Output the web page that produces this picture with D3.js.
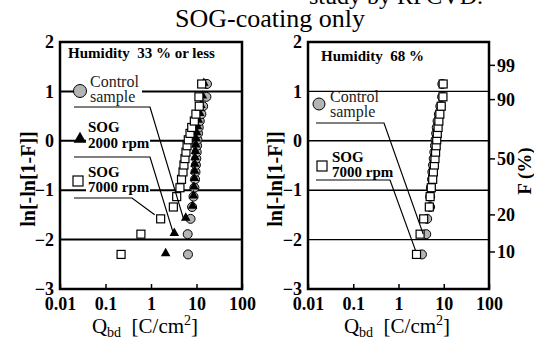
<!DOCTYPE html>
<html>
<head>
<meta charset="utf-8">
<script src="https://cdn.jsdelivr.net/npm/d3@7"></script>
<style>
  body { margin: 0; background: #fff; }
</style>
</head>
<body>
<svg id="chart" width="534" height="340"></svg>
<script>
// Weibull plot values (y = ln[-ln[1-F]] for each rank, x = Qbd in C/cm2)
var rankY = [-2.30, -1.89, -1.58, -1.34, -1.13, -0.95, -0.78, -0.63, -0.49, -0.36,
             -0.23, -0.10, 0.02, 0.15, 0.27, 0.40, 0.54, 0.70, 0.89, 1.15];

// left panel: humidity 33 % or less
var ctrlQ_L = [6.5, 6.4, 7.4, 8.0, 8.6, 9.0, 9.3, 9.5, 9.7, 9.9,
               10.1, 10.3, 10.5, 10.8, 11.2, 11.8, 12.8, 14.0, 16.5, 17.0];
var sog2000Q_L = [2.1, 3.25, 5.8, 8.2, 8.6, 8.8, 9.0, 9.1, 9.2, 9.3,
                  9.5, 9.7, 9.9, 10.1, 10.5, 11.0, 11.8, 12.5, 13.5, 14.5];
var sog7000Q_L = [0.22, 0.60, 1.63, 3.1, 3.67, 4.33, 4.68, 5.05, 5.3, 5.58,
                  5.87, 6.2, 6.6, 7.2, 7.85, 8.96, 9.7, 11.5, 11.3, 13.0];

// right panel: humidity 68 %
var ctrlQ_R = [3.3, 4.1, 4.3, 5.0, 5.0, 5.2, 5.5, 5.6, 5.8, 6.0,
               6.2, 6.4, 6.6, 6.8, 7.0, 7.3, 7.8, 8.4, 9.2, 9.3];
var sog7000Q_R = [2.5, 3.0, 3.6, 4.8, 5.0, 5.3, 5.7, 5.9, 6.2, 6.4,
                  6.6, 6.8, 7.0, 7.2, 7.5, 7.8, 8.2, 8.8, 9.6, 9.7];

var yTicks = [2, 1, 0, -1, -2, -3];
var gridY = [1, 0, -1, -2];
var xTicks = [0.01, 0.1, 1, 10, 100];
var xTickLabels = ["0.01", "0.1", "1", "10", "100"];
var fTicks = [99, 90, 50, 20, 10];

var SERIF = "'Liberation Serif'";
var svg = d3.select("#chart");

// cut-off top line and title
svg.append("text").attr("x", 309).attr("y", 4)
  .attr("font-size", 24).style("font-family", SERIF).text("study by RFCVD.");
svg.append("text").attr("x", 270).attr("y", 27)
  .attr("text-anchor", "middle").attr("font-size", 26).style("font-family", SERIF)
  .text("SOG-coating only");

function drawPanel(left, right, gridWidth) {
  var x = d3.scaleLog().domain([0.01, 100]).range([left, right]);
  var y = d3.scaleLinear().domain([-3, 2]).range([289, 42]);
  var g = svg.append("g");

  // grid lines
  g.selectAll(".grid")
    .data(gridY)
    .enter()
    .append("line")
    .attr("x1", left).attr("x2", right)
    .attr("y1", function (d) { return y(d); })
    .attr("y2", function (d) { return y(d); })
    .attr("stroke", "#000")
    .attr("stroke-width", gridWidth);

  // x axis
  var xa = g.append("g").attr("transform", "translate(0,289)")
    .call(d3.axisBottom(x).tickValues(xTicks)
      .tickFormat(function (d, i) { return xTickLabels[i]; })
      .tickSize(-5).tickPadding(8));
  xa.select(".domain").remove();
  xa.selectAll("line").attr("stroke-width", 1.5);
  xa.selectAll("text").attr("font-size", 18).attr("font-weight", "bold")
    .attr("fill", "#000").style("font-family", SERIF);

  // y axis
  var ya = g.append("g").attr("transform", "translate(" + left + ",0)")
    .call(d3.axisLeft(y).tickValues(yTicks).tickFormat(d3.format("d"))
      .tickSize(0).tickPadding(6));
  ya.select(".domain").remove();
  ya.selectAll("text").attr("font-size", 18).attr("font-weight", "bold")
    .attr("fill", "#000").style("font-family", SERIF);

  return { x: x, y: y, g: g };
}

function frame(p, left, right) {
  p.g.append("rect")
    .attr("x", left).attr("y", 42)
    .attr("width", right - left).attr("height", 247)
    .attr("fill", "none").attr("stroke", "#000").attr("stroke-width", 2.5);
}

function xLabel(cx) {
  var t = svg.append("text").attr("x", cx).attr("y", 333)
    .attr("text-anchor", "middle").attr("font-size", 21).style("font-family", SERIF);
  t.append("tspan").text("Q");
  t.append("tspan").attr("font-size", 14).attr("dy", 4).text("bd");
  t.append("tspan").attr("dy", -4).text("\u00a0\u00a0[C/cm");
  t.append("tspan").attr("font-size", 14).attr("dy", -8).text("2");
  t.append("tspan").attr("dy", 8).text("]");
}

function yLabel(xpos) {
  svg.append("text")
    .attr("transform", "translate(" + xpos + ",179) rotate(-90)")
    .attr("text-anchor", "middle").attr("font-size", 20).attr("font-weight", "bold")
    .style("font-family", SERIF)
    .text("ln[-ln[1-F]]");
}

function circles(p, qs, r) {
  p.g.selectAll(null)
    .data(qs)
    .enter()
    .append("circle")
    .attr("cx", function (d) { return p.x(d); })
    .attr("cy", function (d, i) { return p.y(rankY[i]); })
    .attr("r", r)
    .attr("fill", "#b4b4b4").attr("stroke", "#000").attr("stroke-width", 1);
}

function triangles(p, qs) {
  p.g.selectAll(null)
    .data(qs)
    .enter()
    .append("path")
    .attr("d", d3.symbol().type(d3.symbolTriangle).size(40))
    .attr("transform", function (d, i) {
      return "translate(" + p.x(d) + "," + (p.y(rankY[i]) - 1) + ")";
    })
    .attr("fill", "#000");
}

function squares(p, qs) {
  p.g.selectAll(null)
    .data(qs)
    .enter()
    .append("rect")
    .attr("x", function (d) { return p.x(d) - 4; })
    .attr("y", function (d, i) { return p.y(rankY[i]) - 4; })
    .attr("width", 8).attr("height", 8)
    .attr("fill", "#fff").attr("stroke", "#000").attr("stroke-width", 1.2);
}

function leader(p, pts) {
  p.g.append("path")
    .attr("d", d3.line()(pts))
    .attr("fill", "none").attr("stroke", "#000").attr("stroke-width", 1.2);
}

function textLines(p, x0, y0, lines, bold, size, dy, color) {
  var t = p.g.append("text").attr("x", x0).attr("y", y0)
    .attr("font-size", size).attr("fill", color).style("font-family", SERIF)
    .attr("font-weight", bold ? "bold" : "normal");
  lines.forEach(function (s, i) {
    t.append("tspan").attr("x", x0).attr("dy", i == 0 ? 0 : dy).text(s);
  });
}

function whiteBox(p, x0, y0, w, h) {
  p.g.append("rect").attr("x", x0).attr("y", y0).attr("width", w).attr("height", h)
    .attr("fill", "#fff");
}

// ---------- left panel ----------
var pl = drawPanel(60, 242, 2);
circles(pl, ctrlQ_L, 4.5);
triangles(pl, sog2000Q_L);
squares(pl, sog7000Q_L);

whiteBox(pl, 86, 74, 56, 29);
whiteBox(pl, 86, 119, 64, 30);
whiteBox(pl, 86, 165, 64, 28);
pl.g.append("text").attr("x", 68).attr("y", 58).style("font-family", SERIF)
  .attr("font-size", 15).attr("font-weight", "bold").text("Humidity\u00a0\u00a033 % or less");

pl.g.append("circle").attr("cx", 80).attr("cy", 91).attr("r", 6.5)
  .attr("fill", "#b4b4b4").attr("stroke", "#000").attr("stroke-width", 1);
textLines(pl, 90, 87, ["Control", "sample"], false, 16, 15, "#222");
leader(pl, [[74, 107], [150, 107], [pl.x(ctrlQ_L[2]) - 7, pl.y(rankY[2])]]);

pl.g.append("path").attr("d", d3.symbol().type(d3.symbolTriangle).size(70))
  .attr("transform", "translate(80,139)").attr("fill", "#000");
textLines(pl, 88, 132, ["SOG", "2000 rpm"], true, 15, 16, "#000");
leader(pl, [[74, 157], [150, 157], [pl.x(sog2000Q_L[1]) - 1, pl.y(rankY[1]) - 1]]);

pl.g.append("rect").attr("x", 73).attr("y", 176).attr("width", 10).attr("height", 10)
  .attr("fill", "#fff").attr("stroke", "#000").attr("stroke-width", 1.2);
textLines(pl, 88, 177, ["SOG", "7000 rpm"], true, 15, 15, "#000");
leader(pl, [[74, 198], [132, 198], [pl.x(sog7000Q_L[2]) - 6, pl.y(rankY[2]) - 4]]);

frame(pl, 60, 242);
xLabel(145);
yLabel(35);

// ---------- right panel ----------
var pr = drawPanel(308, 489, 1.4);
circles(pr, ctrlQ_R, 4.5);
squares(pr, sog7000Q_R);

pr.g.append("text").attr("x", 321).attr("y", 61).style("font-family", SERIF)
  .attr("font-size", 15).attr("font-weight", "bold").text("Humidity\u00a0\u00a068 %");

pr.g.append("circle").attr("cx", 319).attr("cy", 104).attr("r", 6)
  .attr("fill", "#b4b4b4").attr("stroke", "#000").attr("stroke-width", 1);
textLines(pr, 330, 102, ["Control", "sample"], false, 16, 15, "#222");
leader(pr, [[316, 123], [384, 123], [pr.x(ctrlQ_R[1]) - 3, pr.y(rankY[1])]]);

pr.g.append("rect").attr("x", 317).attr("y", 161).attr("width", 10).attr("height", 10)
  .attr("fill", "#fff").attr("stroke", "#000").attr("stroke-width", 1.2);
textLines(pr, 332, 162, ["SOG", "7000 rpm"], true, 15, 15, "#000");
leader(pr, [[316, 180], [390, 180], [pr.x(sog7000Q_R[0]) - 1, pr.y(rankY[0]) - 4]]);

frame(pr, 308, 489);

// right-hand F (%) axis
var fa = pr.g.append("g").selectAll(".ft")
  .data(fTicks)
  .enter()
  .append("g")
  .attr("transform", function (d) {
    return "translate(489," + pr.y(Math.log(-Math.log(1 - d / 100))) + ")";
  });
fa.append("line").attr("x1", 0).attr("x2", 6).attr("stroke", "#000").attr("stroke-width", 1.5);
fa.append("text").attr("x", 8).attr("dy", "0.35em").style("font-family", SERIF)
  .attr("font-size", 18).attr("font-weight", "bold").text(function (d) { return d; });

svg.append("text")
  .attr("transform", "translate(531,171) rotate(-90)")
  .attr("text-anchor", "middle").attr("font-size", 19).attr("font-weight", "bold")
  .style("font-family", SERIF)
  .text("F (%)");

xLabel(397);
yLabel(282);
</script>
</body>
</html>
